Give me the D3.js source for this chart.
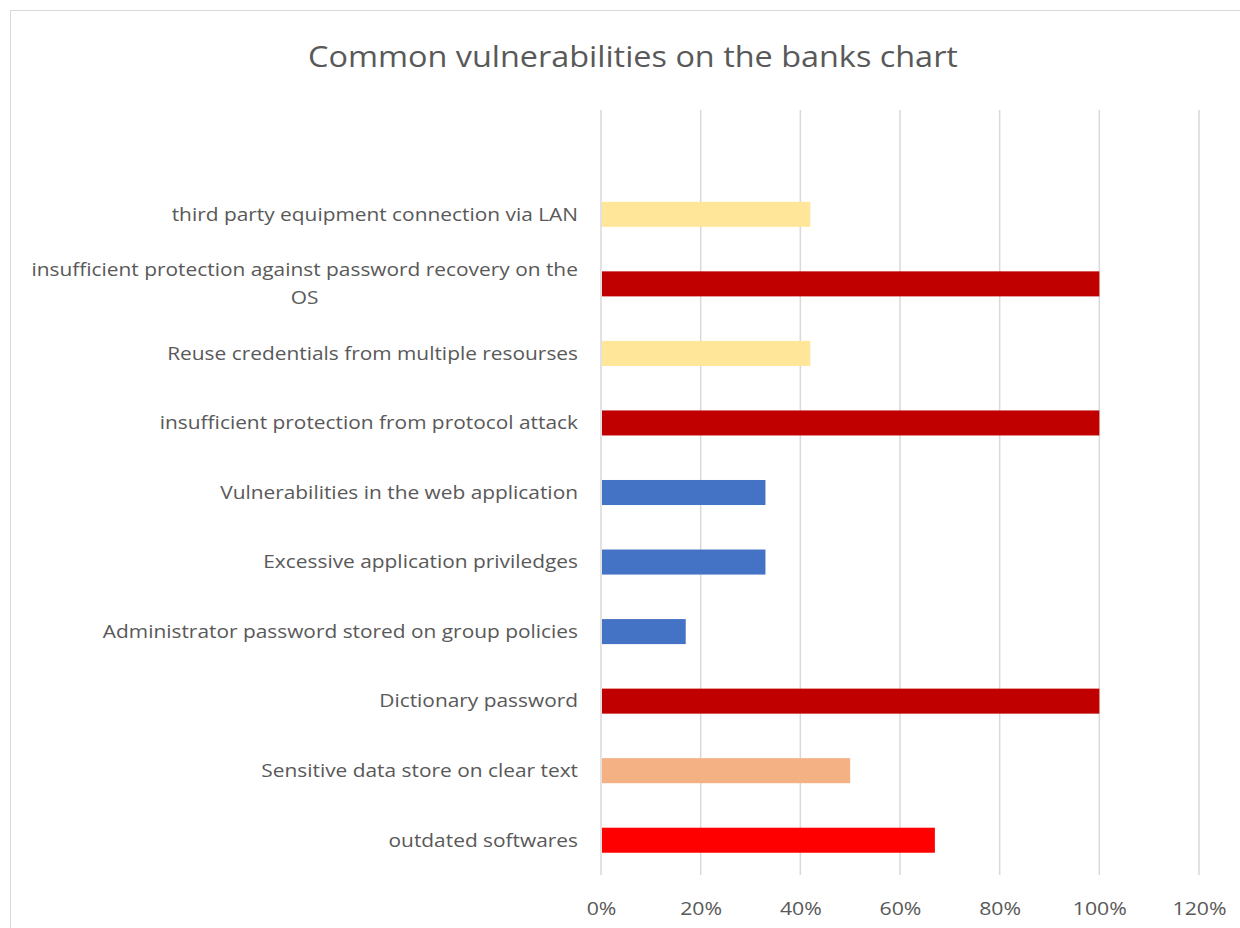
<!DOCTYPE html>
<html>
<head>
<meta charset="utf-8">
<script src="https://cdn.jsdelivr.net/npm/d3@7"></script>
<style>
  html, body { margin: 0; padding: 0; background: #fff; }
  svg { display: block; }
</style>
</head>
<body>
<svg id="chart" width="1240" height="928"></svg>
<script>
// Categories listed bottom to top; the blank entry keeps an empty row above the bars
const categories = [
  "outdated softwares",
  "Sensitive data store on clear text",
  "Dictionary password",
  "Administrator password stored on group policies",
  "Excessive application priviledges",
  "Vulnerabilities in the web application",
  "insufficient protection from protocol attack",
  "Reuse credentials from multiple resourses",
  "insufficient protection against password recovery on the OS",
  "third party equipment connection via LAN",
  ""
];
const values = [0.67, 0.50, 1.00, 0.17, 0.33, 0.33, 1.00, 0.42, 1.00, 0.42, null];
const barColors = ["#FF0000", "#F4B183", "#C00000", "#4472C4", "#4472C4", "#4472C4",
                   "#C00000", "#FFE699", "#C00000", "#FFE699", "none"];
const tickValues = [0, 0.2, 0.4, 0.6, 0.8, 1.0, 1.2];
const titleText = "Common vulnerabilities on the banks chart";

const svg = d3.select("#chart");
const font = "'Open Sans', sans-serif";
const textColor = "#595959";

// Horizontal widening applied to text so it reads like a wide-set face
const labelStretch = 1.16;
const tickStretch = 1.12;
const titleStretch = 1.08;

// Chart frame
svg.append("rect")
  .attr("x", 10.5).attr("y", 10.5)
  .attr("width", 1240).attr("height", 940)
  .attr("fill", "#fff").attr("stroke", "#d9d9d9").attr("stroke-width", 1);

// Title
svg.append("text")
  .attr("transform", `translate(633,67) scale(${titleStretch},1)`)
  .attr("text-anchor", "middle")
  .attr("font-family", font).attr("font-size", 30)
  .attr("fill", textColor)
  .text(titleText);

const plot = { left: 601, right: 1199, top: 110, bottom: 875 };

const x = d3.scaleLinear().domain([0, 1.2]).range([plot.left, plot.right]);
const y = d3.scaleBand()
  .domain(d3.range(categories.length).reverse())
  .range([plot.top, plot.bottom])
  .paddingInner(0.64).paddingOuter(0.32);

// Vertical gridlines
svg.append("g")
  .selectAll("line")
  .data(tickValues)
  .join("line")
  .attr("x1", d => x(d)).attr("x2", d => x(d))
  .attr("y1", plot.top).attr("y2", plot.bottom)
  .attr("stroke", "#d9d9d9").attr("stroke-width", 1.5);

// Bars
svg.append("g")
  .selectAll("rect")
  .data(values.map((v, i) => ({ v, i })).filter(d => d.v != null))
  .join("rect")
  .attr("x", x(0) + 1)
  .attr("y", d => y(d.i))
  .attr("width", d => x(d.v) - x(0) - 1)
  .attr("height", y.bandwidth())
  .attr("fill", d => barColors[d.i]);

// Category labels, wrapped and centred when wider than the label column
const labelRight = 578;
const maxLabelWidth = 560;
const labelG = svg.append("g")
  .attr("font-family", font).attr("font-size", 18).attr("fill", textColor);

function textWidth(s) {
  const t = labelG.append("text").text(s);
  const w = t.node().getComputedTextLength() * labelStretch;
  t.remove();
  return w;
}

categories.forEach((name, i) => {
  if (!name) return;
  const cy = y(i) + y.bandwidth() / 2;
  if (textWidth(name) <= maxLabelWidth) {
    labelG.append("text")
      .attr("transform", `translate(${labelRight},${cy}) scale(${labelStretch},1)`)
      .attr("dy", "0.35em").attr("text-anchor", "end")
      .text(name);
  } else {
    const words = name.split(" ");
    const lines = [];
    let line = [];
    words.forEach(wd => {
      const test = line.concat(wd).join(" ");
      if (textWidth(test) > maxLabelWidth && line.length) { lines.push(line.join(" ")); line = [wd]; }
      else line.push(wd);
    });
    lines.push(line.join(" "));
    const widest = d3.max(lines, textWidth);
    const cx = labelRight - widest / 2;
    const lh = 28;
    lines.forEach((l, k) => {
      const ly = cy + (k - (lines.length - 1) / 2) * lh;
      labelG.append("text")
        .attr("transform", `translate(${cx},${ly}) scale(${labelStretch},1)`)
        .attr("dy", "0.35em").attr("text-anchor", "middle")
        .text(l);
    });
  }
});

// Value axis tick labels
const xAxis = d3.axisBottom(x).tickValues(tickValues).tickFormat(d3.format(".0%")).tickSize(0).tickPadding(0);
const axisG = svg.append("g")
  .attr("transform", `translate(0,${plot.bottom})`)
  .call(xAxis);
axisG.select(".domain").remove();
axisG.selectAll("text")
  .attr("y", 0)
  .attr("transform", `translate(0,33) scale(${tickStretch},1)`)
  .attr("dy", "0.35em")
  .attr("font-family", font).attr("font-size", 19).attr("fill", textColor);
</script>
</body>
</html>
